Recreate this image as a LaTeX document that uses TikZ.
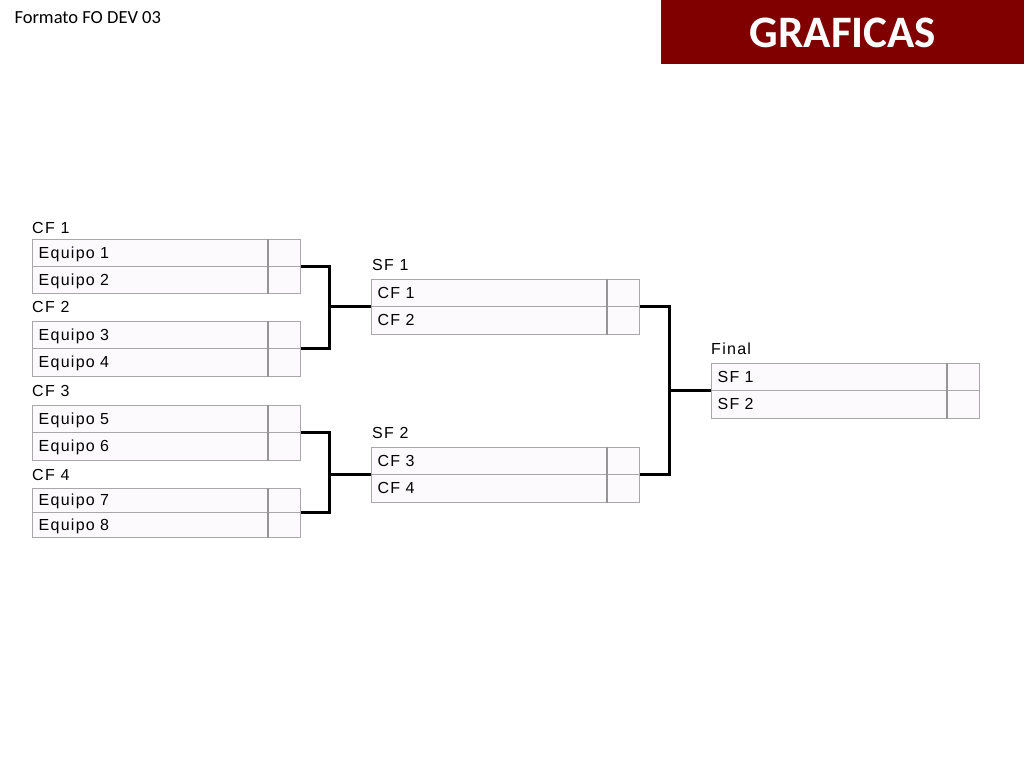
\documentclass[tikz,border=0pt]{standalone}
\usepackage{fontspec}
\setmainfont{Carlito}
\newfontfamily\bracketfont[LetterSpace=8]{Liberation Sans}
\definecolor{headred}{HTML}{800000}
\definecolor{boxfill}{HTML}{FDFAFD}
\definecolor{boxline}{HTML}{A8A8A8}
\definecolor{divline}{HTML}{959595}
\tikzset{
  team/.style={draw=boxline,line width=1.3pt,fill=boxfill,anchor=north west,
    text width=224pt,inner xsep=6pt,inner ysep=0pt,minimum height=#1,align=left,
    text depth=1pt,font=\bracketfont\fontsize{16}{18}\selectfont},
  team/.default=27pt,
  score/.style={draw=boxline,line width=1.3pt,fill=boxfill,anchor=north west,
    minimum width=32pt,minimum height=#1,inner sep=0pt},
  score/.default=27pt,
  divider/.style={draw=divline,line width=2.2pt},
  roundlabel/.style={anchor=west,inner sep=0pt,font=\bracketfont\fontsize{16}{18}\selectfont},
  link/.style={line width=3pt,line join=miter}
}
\begin{document}
\begin{tikzpicture}[x=1pt,y=-1pt]
    \useasboundingbox (0,0) rectangle (1024,768);

    % Header
    \node[anchor=west,font=\fontsize{18.5}{20}\selectfont] (fmt) at (11,18) {Formato FO DEV 03};
    \fill[headred] (661,0) rectangle (1024,64);
    \node[text=white,font=\fontsize{45}{50}\selectfont\bfseries] (title) at (843,33) {GRAFICAS};

    % Quarter finals
    \node[roundlabel] (lc1) at (32,228) {CF 1};
    \node[team] (c1a) at (32,239) {Equipo 1};
    \node[score] (s1a) at (268,239) {};
    \node[team] (c1b) at (32,266) {Equipo 2};
    \node[score] (s1b) at (268,266) {};

    \node[roundlabel] (lc2) at (32,307) {CF 2};
    \node[team=28pt] (c2a) at (32,321) {Equipo 3};
    \node[score=28pt] (s2a) at (268,321) {};
    \node[team=28pt] (c2b) at (32,348) {Equipo 4};
    \node[score=28pt] (s2b) at (268,348) {};

    \node[roundlabel] (lc3) at (32,391) {CF 3};
    \node[team] (c3a) at (32,405) {Equipo 5};
    \node[score] (s3a) at (268,405) {};
    \node[team=28pt] (c3b) at (32,432) {Equipo 6};
    \node[score=28pt] (s3b) at (268,432) {};

    \node[roundlabel] (lc4) at (32,475) {CF 4};
    \node[team=24pt] (c4a) at (32,488) {Equipo 7};
    \node[score=24pt] (s4a) at (268,488) {};
    \node[team=25pt] (c4b) at (32,512) {Equipo 8};
    \node[score=25pt] (s4b) at (268,512) {};

    % Semi finals
    \node[roundlabel] (lp1) at (372,265) {SF 1};
    \node[team] (p1a) at (371,279) {CF 1};
    \node[score] (t1a) at (607,279) {};
    \node[team=28pt] (p1b) at (371,306) {CF 2};
    \node[score=28pt] (t1b) at (607,306) {};

    \node[roundlabel] (lp2) at (372,433) {SF 2};
    \node[team] (p2a) at (371,447) {CF 3};
    \node[score] (t2a) at (607,447) {};
    \node[team=28pt] (p2b) at (371,474) {CF 4};
    \node[score=28pt] (t2b) at (607,474) {};

    % Final
    \node[roundlabel] (lfin) at (711,349) {Final};
    \node[team] (fa) at (711,363) {SF 1};
    \node[score] (ua) at (947,363) {};
    \node[team=28pt] (fb) at (711,390) {SF 2};
    \node[score=28pt] (ub) at (947,390) {};

    % Score dividers
    \draw[divider] (s1a.north west) -- (s1b.south west);
    \draw[divider] (s2a.north west) -- (s2b.south west);
    \draw[divider] (s3a.north west) -- (s3b.south west);
    \draw[divider] (s4a.north west) -- (s4b.south west);
    \draw[divider] (t1a.north west) -- (t1b.south west);
    \draw[divider] (t2a.north west) -- (t2b.south west);
    \draw[divider] (ua.north west) -- (ub.south west);

    % Bracket lines
    \coordinate (j1) at (329,306);
    \coordinate (j2) at (329,474);
    \coordinate (j3) at (669,390);
    \draw[link] (s1b.north east) -| (j1) |- (s2b.north east);
    \draw[link] (j1) -- (p1b.north west);
    \draw[link] (s3b.north east) -| (j2) |- (s4b.north east);
    \draw[link] (j2) -- (p2b.north west);
    \draw[link] (t1b.north east) -| (j3) |- (t2b.north east);
    \draw[link] (j3) -- (fb.north west);
\end{tikzpicture}
\end{document}
